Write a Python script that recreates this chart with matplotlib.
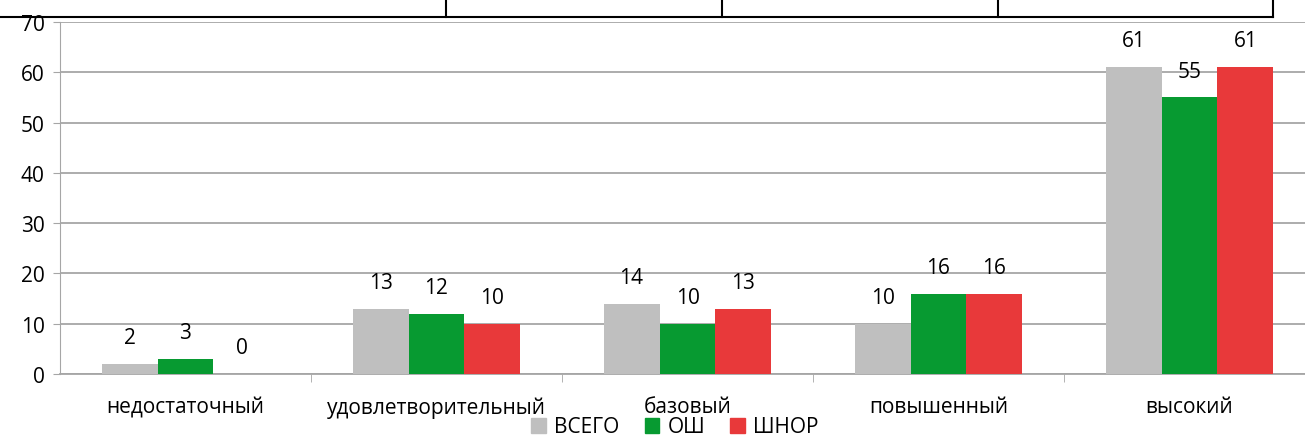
import numpy as np
import matplotlib.pyplot as plt
from matplotlib.lines import Line2D

plt.rcParams['font.family'] = ['Open Sans', 'DejaVu Sans']

categories = ["недостаточный", "удовлетворительный", "базовый", "повышенный", "высокий"]
series_names = ["ВСЕГО", "ОШ", "ШНОР"]
vsego = [2, 13, 14, 10, 61]
osh = [3, 12, 10, 16, 55]
shnor = [0, 10, 13, 16, 61]
colors = ["#BFBFBF", "#079A31", "#E8393A"]

fig = plt.figure(figsize=(13.05, 4.39), dpi=100)
# axis spans 60px..1315px (right part is cut by the picture edge)
ax = fig.add_axes([60 / 1305, 1 - 375 / 439, 1255 / 1305, (375 - 23) / 439])

x = np.arange(len(categories))
w = 0.223
for i, (vals, col) in enumerate(zip([vsego, osh, shnor], colors)):
    pos = x + (i - 1) * w
    ax.bar(pos, vals, width=w, color=col, zorder=3)
    for p, v in zip(pos, vals):
        ax.annotate(str(v), (p, v), xytext=(0, 19), textcoords="offset points",
                    ha="center", va="center", fontsize=15, zorder=4)

ax.set_xlim(-0.5, len(categories) - 0.5)
ax.set_ylim(0, 70)
ax.set_yticks(range(0, 71, 10))
ax.yaxis.grid(True, color="#A6A6A6", linewidth=1.3, zorder=0)
ax.tick_params(axis="y", labelsize=15, length=5, color="#A6A6A6", pad=6)

ax.set_xticks(x)
ax.set_xticklabels(categories, fontsize=15)
ax.tick_params(axis="x", length=0, pad=16)
ax.set_xticks(np.arange(0.5, len(categories) - 0.5), minor=True)
ax.tick_params(axis="x", which="minor", length=6, color="#A6A6A6", direction="out")

for s in ["top", "right"]:
    ax.spines[s].set_visible(False)
ax.spines["left"].set_color("#A6A6A6")
ax.spines["bottom"].set_color("#A6A6A6")
ax.spines["bottom"].set_linewidth(1.3)

handles = [plt.Rectangle((0, 0), 1, 1, color=c) for c in colors]
fig.legend(handles, series_names, loc="center", bbox_to_anchor=(675 / 1305, 1 - 428 / 439),
           ncol=3, frameon=False, fontsize=15, handlelength=0.7, handleheight=0.7,
           handletextpad=0.4, columnspacing=1.2, borderpad=0)

# fragment of a table border at the top of the picture
ty = 1 - 18 / 439
fig.add_artist(Line2D([0, 1273 / 1305], [ty, ty], color="black", linewidth=1.5))
for vx in [446, 722, 998, 1273]:
    fig.add_artist(Line2D([vx / 1305, vx / 1305], [ty, 1], color="black", linewidth=1.5))

fig.savefig("out.png", dpi=100)
